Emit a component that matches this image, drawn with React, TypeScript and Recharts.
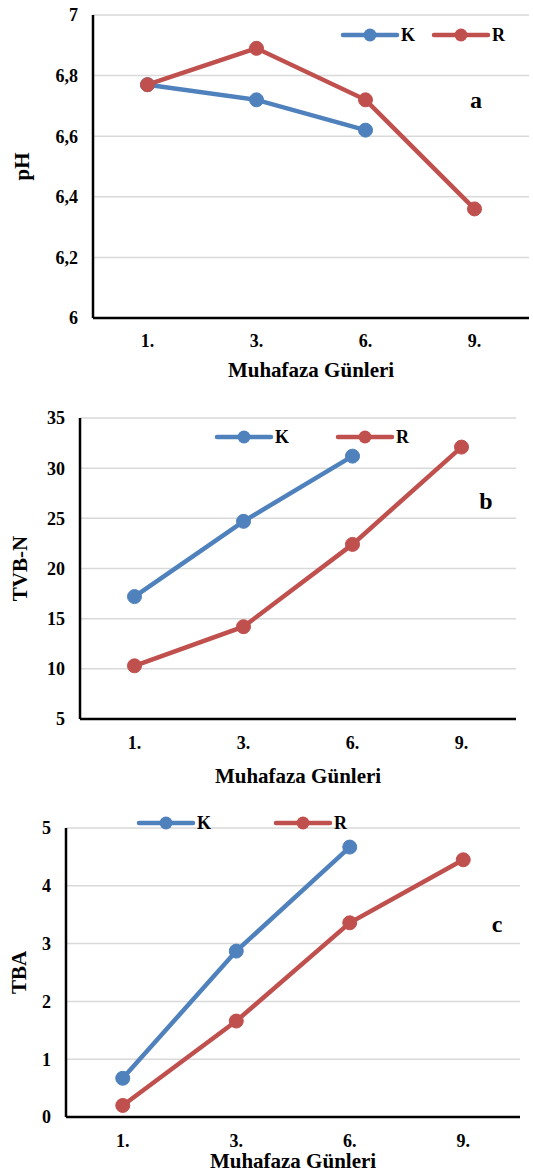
import { CartesianGrid, Customized, Line, LineChart, XAxis, YAxis } from 'recharts'

const BLUE = '#4f81bd'
const RED = '#c0504d'
const FONT = '"Liberation Serif", "Times New Roman", serif'

const days = ['1.', '3.', '6.', '9.']
const seriesNames = ['K', 'R']

const phK = [6.77, 6.72, 6.62, null]
const phR = [6.77, 6.89, 6.72, 6.36]
const phTicks = [6, 6.2, 6.4, 6.6, 6.8, 7]

const tvbnK = [17.2, 24.7, 31.2, null]
const tvbnR = [10.3, 14.2, 22.4, 32.1]
const tvbnTicks = [5, 10, 15, 20, 25, 30, 35]

const tbaK = [0.67, 2.87, 4.67, null]
const tbaR = [0.2, 1.66, 3.36, 4.45]
const tbaTicks = [0, 1, 2, 3, 4, 5]

const xTitle = 'Muhafaza Günleri'

type PanelProps = {
  top: number
  height: number
  k: (number | null)[]
  r: (number | null)[]
  ticks: number[]
  yTitle: string
  letter: string
  plot: { left: number; top: number; right: number; bottom: number }
  tickMargin: number
  legend: { y: number; k: number; r: number }
  letterPos: [number, number]
  yTitleX: number
  xTitleY: number
}

function Panel(p: PanelProps) {
  const width = 533
  const data = days.map((d, i) => ({ day: d, K: p.k[i], R: p.r[i] }))
  const cy = (p.plot.top + p.plot.bottom) / 2
  const cx = (p.plot.left + p.plot.right) / 2
  // Excel-style category axis: points sit in the middle of each band
  const pad = (p.plot.right - p.plot.left) / (days.length * 2)
  const textStyle = { fontFamily: FONT, fontWeight: 700, fill: '#000' }

  const legendItem = (name: string, x: number, color: string) => (
    <g key={name}>
      <line x1={x} x2={x + 54} y1={p.legend.y} y2={p.legend.y} stroke={color} strokeWidth={4.5} strokeLinecap="round" />
      <circle cx={x + 27} cy={p.legend.y} r={6.5} fill={color} />
      <text x={x + 58} y={p.legend.y} dominantBaseline="central" fontSize={18} style={textStyle}>{name}</text>
    </g>
  )

  const extras = () => (
    <g>
      <text x={p.yTitleX} y={cy} transform={`rotate(-90 ${p.yTitleX} ${cy})`} textAnchor="middle"
        dominantBaseline="central" fontSize={21} style={textStyle}>{p.yTitle}</text>
      <text x={cx} y={p.xTitleY} textAnchor="middle" fontSize={21} style={textStyle}>{xTitle}</text>
      <text x={p.letterPos[0]} y={p.letterPos[1]} textAnchor="middle" dominantBaseline="central"
        fontSize={24} style={textStyle}>{p.letter}</text>
      {legendItem(seriesNames[0], p.legend.k, BLUE)}
      {legendItem(seriesNames[1], p.legend.r, RED)}
    </g>
  )

  return (
    <div style={{ position: 'absolute', left: 0, top: p.top }}>
      <LineChart width={width} height={p.height} data={data}
        margin={{ top: p.plot.top, right: width - p.plot.right, bottom: 0, left: 0 }}>
        <CartesianGrid vertical={false} stroke="#d9d9d9" strokeWidth={1.5} />
        <XAxis dataKey="day" interval={0} height={p.height - p.plot.bottom} tickLine={false}
          padding={{ left: pad, right: pad }}
          axisLine={{ stroke: '#000', strokeWidth: 2.5 }} tickMargin={p.tickMargin}
          tick={{ fontSize: 18, fontFamily: FONT, fontWeight: 700, fill: '#000' }} />
        <YAxis type="number" domain={[p.ticks[0], p.ticks[p.ticks.length - 1]]} ticks={p.ticks} interval={0}
          width={p.plot.left} tickLine={false} axisLine={{ stroke: '#000', strokeWidth: 2.5 }} tickMargin={9}
          tickFormatter={(v: number) => String(v).replace('.', ',')}
          tick={{ fontSize: 18, fontFamily: FONT, fontWeight: 700, fill: '#000' }} />
        <Line type="linear" dataKey="K" stroke={BLUE} strokeWidth={4.5} isAnimationActive={false}
          dot={{ r: 7, fill: BLUE, stroke: BLUE, strokeWidth: 1 }} activeDot={false} />
        <Line type="linear" dataKey="R" stroke={RED} strokeWidth={4.5} isAnimationActive={false}
          dot={{ r: 7, fill: RED, stroke: RED, strokeWidth: 1 }} activeDot={false} />
        <Customized component={extras} />
      </LineChart>
    </div>
  )
}

export default function App() {
  return (
    <div style={{ position: 'absolute', left: 0, top: 0, width: 533, height: 1176, background: '#fff' }}>
      <Panel top={0} height={390} k={phK} r={phR} ticks={phTicks} yTitle="pH" letter="a"
        plot={{ left: 93, top: 15, right: 529, bottom: 318 }} tickMargin={10}
        legend={{ y: 35, k: 343, r: 434 }} letterPos={[476, 100]} yTitleX={22} xTitleY={377} />
      <Panel top={390} height={410} k={tvbnK} r={tvbnR} ticks={tvbnTicks} yTitle="TVB-N" letter="b"
        plot={{ left: 80, top: 28, right: 516, bottom: 329 }} tickMargin={11}
        legend={{ y: 47, k: 217, r: 338 }} letterPos={[486, 111]} yTitleX={20} xTitleY={393} />
      <Panel top={800} height={376} k={tbaK} r={tbaR} ticks={tbaTicks} yTitle="TBA" letter="c"
        plot={{ left: 66, top: 28, right: 520, bottom: 317 }} tickMargin={11}
        legend={{ y: 23, k: 139, r: 276 }} letterPos={[497, 124]} yTitleX={19} xTitleY={368} />
    </div>
  )
}
